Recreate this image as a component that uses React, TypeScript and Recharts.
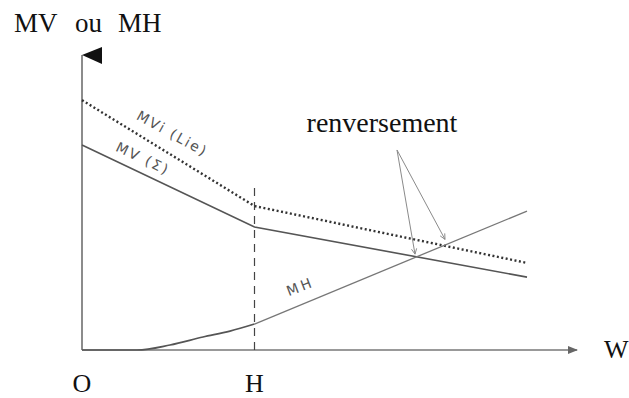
import {
  LineChart,
  Line,
  XAxis,
  YAxis,
  ReferenceLine,
  ReferenceDot,
} from "recharts";

// position of H on the W axis
const hPos = 34.5;

// MV curves: three points each (origin, H, end)
const wMV = [0, hPos, 89];
const mvSigma = [69.5, 41.7, 24.7];
const mvLie = [84.7, 48.8, 29.5];

// MH: curved rise up to H, then a straight run
const wMHCurve = [0, 11, 17.6, 24.2, 29.6, hPos];
const mhCurve = [0, 0, 1.7, 4.4, 6.4, 8.8];
const wMHTail = [hPos, 89];
const mhTail = [8.8, 47.1];

const xTicks = [0, hPos];
const xTickLabels = ["O", "H"];

// "renversement" arrows: common start, one tip per crossing
const arrowFrom = { x: 63, y: 67.8 };
const arrowTips = [
  { x: 66.6, y: 32.5 },
  { x: 72.6, y: 37.5 },
];

const toPoints = (ws: number[], vs: number[]) =>
  ws.map((w, i) => ({ w, v: vs[i] }));

const serif = "'Liberation Serif', 'Times New Roman', serif";
const hand = "'DejaVu Sans', sans-serif";

function Arrow(props: any) {
  const { x1, y1, x2, y2 } = props;
  const a = Math.atan2(y2 - y1, x2 - x1);
  const len = 6;
  const p1 = [x2 - len * Math.cos(a - 0.45), y2 - len * Math.sin(a - 0.45)];
  const p2 = [x2 - len * Math.cos(a + 0.45), y2 - len * Math.sin(a + 0.45)];
  return (
    <g stroke="#8a8a8a" strokeWidth={1} fill="none">
      <line x1={x1} y1={y1} x2={x2} y2={y2} />
      <polyline points={`${p1[0]},${p1[1]} ${x2},${y2} ${p2[0]},${p2[1]}`} />
    </g>
  );
}

function lineLabel(text: string, angle: number, size: number, spacing: number) {
  return (props: any) => (
    <text
      x={props.cx}
      y={props.cy}
      transform={`rotate(${angle}, ${props.cx}, ${props.cy})`}
      textAnchor="middle"
      fontFamily={hand}
      fontSize={size}
      letterSpacing={spacing}
      fill="#555"
    >
      {text}
    </text>
  );
}

export default function App() {
  return (
    <div
      style={{
        position: "absolute",
        left: 0,
        top: 0,
        width: 629,
        height: 398,
        background: "#fff",
      }}
    >
      <LineChart
        width={629}
        height={398}
        margin={{ top: 55, right: 47, left: 82, bottom: 0 }}
      >
        <XAxis
          type="number"
          dataKey="w"
          domain={[0, 100]}
          ticks={xTicks}
          tickFormatter={(v: number) => xTickLabels[xTicks.indexOf(v)]}
          axisLine={false}
          tickLine={false}
          tickSize={0}
          tickMargin={24}
          height={48}
          tick={{ fontFamily: serif, fontSize: 26, fill: "#111" }}
        />
        <YAxis type="number" domain={[0, 100]} hide />

        {/* axes */}
        <ReferenceLine
          segment={[{ x: 0, y: 0 }, { x: 0, y: 100 }]}
          stroke="#666"
          strokeWidth={1.5}
        />
        <ReferenceLine
          segment={[{ x: 0, y: 0 }, { x: 99, y: 0 }]}
          stroke="#777"
          strokeWidth={1.5}
        />
        <ReferenceDot
          x={0}
          y={100}
          r={1}
          shape={(p: any) => (
            <polygon
              points={`${p.cx},${p.cy} ${p.cx + 20},${p.cy - 8} ${p.cx + 20},${p.cy + 9}`}
              fill="#111"
            />
          )}
        />
        <ReferenceDot
          x={99.2}
          y={0}
          r={1}
          shape={(p: any) => (
            <polygon
              points={`${p.cx - 10},${p.cy - 4} ${p.cx},${p.cy} ${p.cx - 10},${p.cy + 4}`}
              fill="#666"
            />
          )}
        />

        {/* H marker */}
        <ReferenceLine
          segment={[{ x: hPos, y: 0 }, { x: hPos, y: 56.6 }]}
          stroke="#444"
          strokeWidth={1.2}
          strokeDasharray="8 6"
        />

        <Line
          data={toPoints(wMV, mvLie)}
          dataKey="v"
          type="linear"
          stroke="#333"
          strokeWidth={2.4}
          strokeDasharray="2 2.5"
          dot={false}
          activeDot={false}
          isAnimationActive={false}
        />
        <Line
          data={toPoints(wMV, mvSigma)}
          dataKey="v"
          type="linear"
          stroke="#555"
          strokeWidth={1.6}
          dot={false}
          activeDot={false}
          isAnimationActive={false}
        />
        <Line
          data={toPoints(wMHCurve, mhCurve)}
          dataKey="v"
          type="monotone"
          stroke="#555"
          strokeWidth={1.7}
          dot={false}
          activeDot={false}
          isAnimationActive={false}
        />
        <Line
          data={toPoints(wMHTail, mhTail)}
          dataKey="v"
          type="linear"
          stroke="#777"
          strokeWidth={1.3}
          dot={false}
          activeDot={false}
          isAnimationActive={false}
        />

        {arrowTips.map((tip, i) => (
          <ReferenceLine key={i} segment={[arrowFrom, tip]} shape={Arrow} />
        ))}

        {/* handwritten curve names */}
        <ReferenceDot x={17.6} y={71.9} r={1} shape={lineLabel("MVi (Lie)", 29, 14, 2)} />
        <ReferenceDot x={11.8} y={63.4} r={1} shape={lineLabel("MV (Σ)", 25.5, 14, 2)} />
        <ReferenceDot x={44} y={20} r={1} shape={lineLabel("MH", -21, 14, 3)} />
      </LineChart>

      <svg
        width={629}
        height={398}
        style={{ position: "absolute", left: 0, top: 0, pointerEvents: "none" }}
      >
        <g fontFamily={serif} fill="#111">
          <text x={14} y={32} fontSize={27}>MV</text>
          <text x={75} y={32} fontSize={27}>ou</text>
          <text x={118} y={32} fontSize={27}>MH</text>
          <text x={382} y={132} fontSize={28} textAnchor="middle">
            renversement
          </text>
          <text x={604} y={358} fontSize={26}>W</text>
        </g>
      </svg>
    </div>
  );
}
